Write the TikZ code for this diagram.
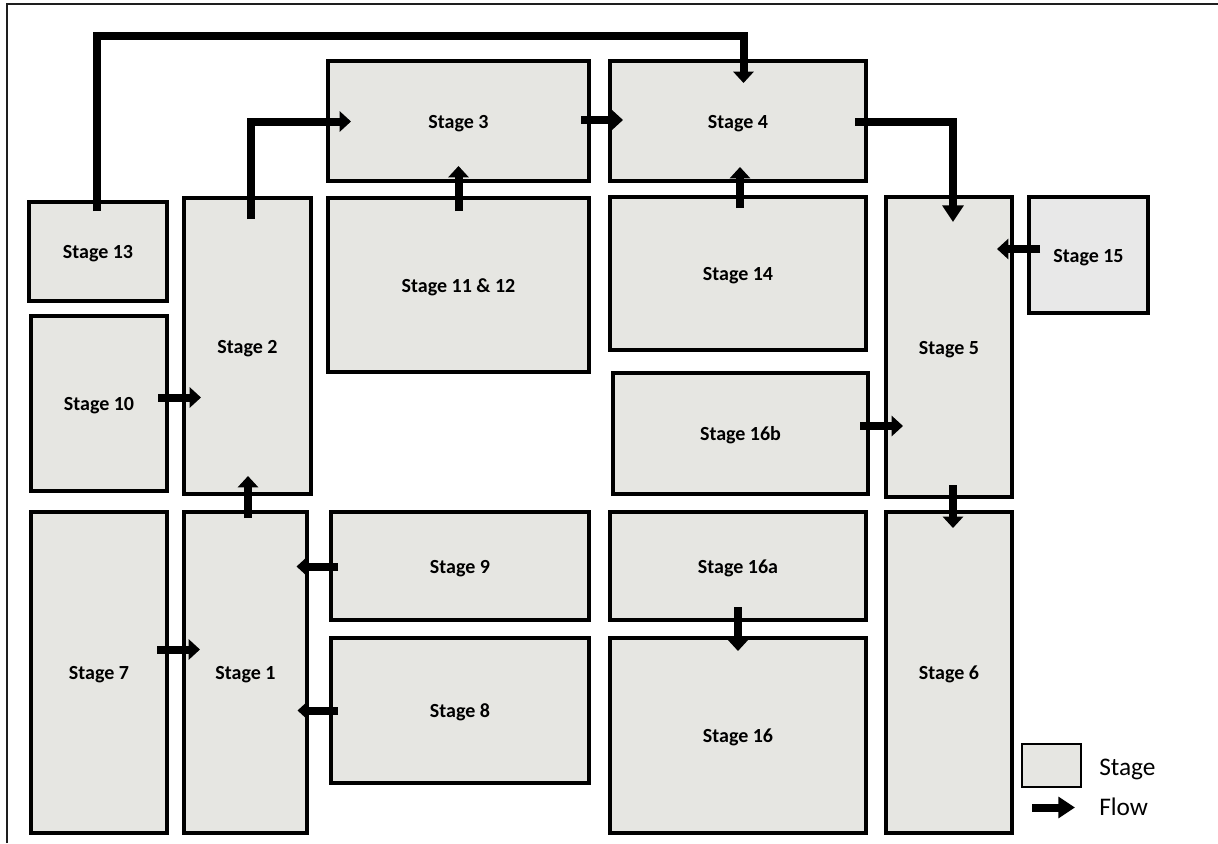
\documentclass[tikz,border=0pt]{standalone}
\usepackage{fontspec}
\setmainfont{Carlito}
\usetikzlibrary{arrows.meta,calc}
\definecolor{stagefill}{RGB}{230,230,226}
\definecolor{stagefillalt}{RGB}{232,232,232}
\definecolor{framegray}{RGB}{30,30,30}
\begin{document}
\begin{tikzpicture}[x=0.75pt,y=-0.75pt,
  stagebox/.style={draw=black, line width=2.4pt, fill=stagefill, inner sep=0pt, outer sep=0pt,
    text height=12pt, text depth=1pt,
    font=\fontsize{15}{18}\selectfont\bfseries},
  sz/.style 2 args={minimum width=#1*0.75pt, minimum height=#2*0.75pt},
  flow/.style={line width=6pt, draw=black, -{Triangle[length=8.5pt,width=15pt]}},
  longflow/.style={flow, -{Triangle[length=12.5pt,width=15.5pt]}},
  legendtext/.style={anchor=base west, inner sep=0pt, font=\fontsize{19}{22}\selectfont}]
\useasboundingbox (0,0) rectangle (1218,843);
\fill[white] (0,0) rectangle (1218,843);

% outer frame (top and left edges)
\draw[framegray, line width=1.9pt] (7,843) -- (7,4) -- (1218,4);

% stages
\node[stagebox, sz={138}{99}]  (s13)   at (98,251.5)   {Stage 13};
\node[stagebox, sz={136}{175}] (s10)   at (99,403.5)   {Stage 10};
\node[stagebox, sz={136}{321}] (s7)    at (99,672.5)   {Stage 7};
\node[stagebox, sz={127}{296}] (s2)    at (247.5,346)  {Stage 2};
\node[stagebox, sz={123}{321}] (s1)    at (245.5,672.5){Stage 1};
\node[stagebox, sz={261}{120}] (s3)    at (458.5,121)  {Stage 3};
\node[stagebox, sz={261}{174}] (s1112) at (458.5,285)  {Stage 11 \& 12};
\node[stagebox, sz={258}{108}] (s9)    at (460,566)    {Stage 9};
\node[stagebox, sz={258}{145}] (s8)    at (460,710.5)  {Stage 8};
\node[stagebox, sz={256}{120}] (s4)    at (738,121)    {Stage 4};
\node[stagebox, sz={256}{153}] (s14)   at (738,273.5)  {Stage 14};
\node[stagebox, sz={255}{121}] (s16b)  at (740.5,433.5){Stage 16b};
\node[stagebox, sz={256}{108}] (s16a)  at (738,566)    {Stage 16a};
\node[stagebox, sz={256}{195}] (s16)   at (738,735.5)  {Stage 16};
\node[stagebox, sz={126}{300}] (s5)    at (949,347)    {Stage 5};
\node[stagebox, sz={126}{321}] (s6)    at (949,672.5)  {Stage 6};
\node[stagebox, fill=stagefillalt, sz={119}{116}] (s15) at (1088.5,255) {Stage 15};

% flows
\draw[flow] ($(s13.north)+(-1.5,9)$) -- ++(0,-175.5) -| ($(s4.north)+(5.5,22)$);
\draw[flow] ($(s2.north)+(3,21)$) |- ($(s3.west)+(23,0.5)$);
\draw[flow] ($(s3.east)+(-8,-1)$) -- ($(s4.west)+(13,-1)$);
\draw[flow] ($(s1112.north)+(0,13)$) -- ($(s3.south)+(0,-15)$);
\draw[flow] ($(s14.north)+(2,11)$) -- ($(s4.south)+(2,-14)$);
\draw[longflow] ($(s4.east)+(-11,1)$) -| ($(s5.north)+(4,25)$);
\draw[flow] ($(s15.west)+(11,-6)$) -- ($(s5.east |- s15.west)+(-15,-6)$);
\draw[flow] ($(s16b.east)+(-8,-7.5)$) -- ($(s5.west |- s16b.east)+(17,-7.5)$);
\draw[flow] ($(s5.south)+(4,-12)$) -- ($(s6.north)+(4,16)$);
\draw[flow] ($(s10.east)+(-9,-6)$) -- ($(s2.west |- s10.east)+(17,-6)$);
\draw[flow] ($(s1.north)+(2.5,6)$) -- ($(s1.north |- s2.south)+(2.5,-18)$);
\draw[flow] ($(s9.west)+(7,0.5)$) -- ($(s1.east |- s9.west)+(-10.5,0.5)$);
\draw[flow] ($(s8.west)+(7,0)$) -- ($(s1.east |- s8.west)+(-9.5,0)$);
\draw[flow] ($(s7.east)+(-10,-23)$) -- ($(s1.west |- s7.east)+(16,-23)$);
\draw[flow] ($(s16a.south)+(0,-13)$) -- ($(s16.north)+(0,13)$);

% legend
\node[stagebox, line width=1.8pt, sz={59}{43}] (legbox) at (1051.5,765.5) {};
\node[legendtext] (legstage) at (1099,775) {Stage};
\coordinate (legfrom) at (1032,807.5);
\coordinate (legto) at (1075,807.5);
\draw[longflow] (legfrom) -- (legto);
\node[legendtext] (legflow) at (1099,815) {Flow};
\end{tikzpicture}
\end{document}
